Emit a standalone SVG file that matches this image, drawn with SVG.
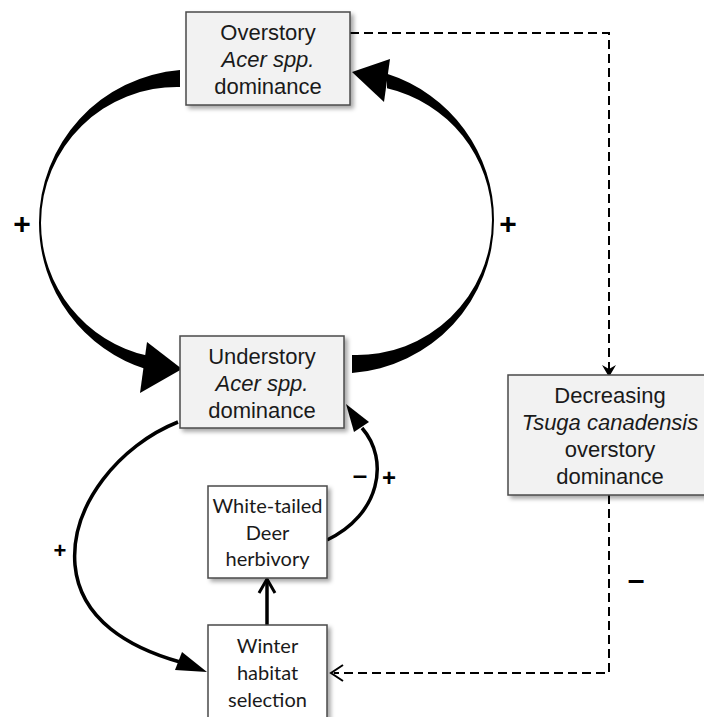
<svg xmlns="http://www.w3.org/2000/svg" width="704" height="717" viewBox="0 0 704 717">
<defs>
<filter id="sh" x="-10%" y="-10%" width="130%" height="130%">
<feDropShadow dx="3" dy="3" stdDeviation="2" flood-color="#000" flood-opacity="0.35"/>
</filter>
<style>
.gbox{fill:#f2f2f2;stroke:#4a4a4a;stroke-width:1.5;filter:url(#sh)}
.wbox{fill:#ffffff;stroke:#4a4a4a;stroke-width:1.5;filter:url(#sh)}
.t1{font-family:"Liberation Sans",Arial,sans-serif;font-size:22px;fill:#1a1a1a;text-anchor:middle}
.t2{font-family:Lato,"Open Sans",sans-serif;font-size:20px;fill:#1a1a1a;text-anchor:middle}
.it{font-style:italic}
.sign{font-family:"Liberation Sans",Arial,sans-serif;font-weight:bold;fill:#000;text-anchor:middle}
.dash{fill:none;stroke:#000;stroke-width:2;stroke-dasharray:9,5}
.thin{fill:none;stroke:#000;stroke-width:3.5}
</style>
</defs>
<rect width="704" height="717" fill="#fff"/>
<g id="connectors">
<path d="M180,70 A153.5,153.5 0 0 0 39,223 A153.5,153.5 0 0 0 147,369.6 L147,355.6 A136,136 0 0 1 41,223 A136,136 0 0 1 180,87 Z" fill="#000"/>
<path d="M182,369 L147,342 L140,393 Z" fill="#000"/>
<path d="M352,373 A153.4,153.4 0 0 0 494,220 A153.4,153.4 0 0 0 387,73.8 L387,88.3 A135.1,135.1 0 0 1 492,220 A135.1,135.1 0 0 1 352,355 Z" fill="#000"/>
<path d="M352,72 L390,59 L384,102 Z" fill="#000"/>
<path class="thin" d="M178,422 C120,445 70,505 75,565 C80,620 130,648 180,662"/>
<path d="M207,672 L182,652 L175,670 Z" fill="#000"/>
<path class="thin" d="M327,540 C380,515 390,460 362,428"/>
<path d="M346,404 L369,422 L354,432 Z" fill="#000"/>
<line class="thin" x1="267" y1="625" x2="267" y2="582" stroke-width="3"/>
<path d="M259,593 L267,579 L275,593" fill="none" stroke="#000" stroke-width="3"/>
<path class="dash" d="M350,33 H609 V370"/>
<path d="M609,377 L602,365 L609,369 L616,365 Z" fill="#000"/>
<path class="dash" d="M609,495 V673 H334"/>
<path d="M343,665 L331,673 L343,681" fill="none" stroke="#000" stroke-width="2"/>
<text class="sign" x="22" y="234" font-size="30">+</text>
<text class="sign" x="508" y="234" font-size="30">+</text>
<text class="sign" x="60" y="558" font-size="22">+</text>
<text class="sign" x="360" y="484" font-size="26">–</text>
<text class="sign" x="389" y="486" font-size="24">+</text>
<text class="sign" x="636" y="590" font-size="30">–</text>
</g>
<g id="overstory">
<rect class="gbox" x="186" y="12" width="164" height="93"/>
<text class="t1" x="268" y="40">Overstory</text>
<text class="t1 it" x="268" y="67">Acer spp.</text>
<text class="t1" x="268" y="94">dominance</text>
</g>
<g id="understory">
<rect class="gbox" x="180" y="336" width="164" height="92"/>
<text class="t1" x="262" y="364">Understory</text>
<text class="t1 it" x="262" y="391">Acer spp.</text>
<text class="t1" x="262" y="418">dominance</text>
</g>
<g id="deer">
<rect class="wbox" x="208" y="486" width="119" height="92"/>
<text class="t2" x="267.5" y="513">White-tailed</text>
<text class="t2" x="267.5" y="540">Deer</text>
<text class="t2" x="267.5" y="566">herbivory</text>
</g>
<g id="winter">
<rect class="wbox" x="208" y="625" width="119" height="100"/>
<text class="t2" x="267.5" y="653">Winter</text>
<text class="t2" x="267.5" y="680">habitat</text>
<text class="t2" x="267.5" y="707">selection</text>
</g>
<g id="tsuga">
<rect class="gbox" x="508" y="375" width="204" height="120"/>
<text class="t1" x="610" y="403">Decreasing</text>
<text class="t1 it" x="610" y="430">Tsuga canadensis</text>
<text class="t1" x="610" y="457">overstory</text>
<text class="t1" x="610" y="484">dominance</text>
</g>
</svg>
